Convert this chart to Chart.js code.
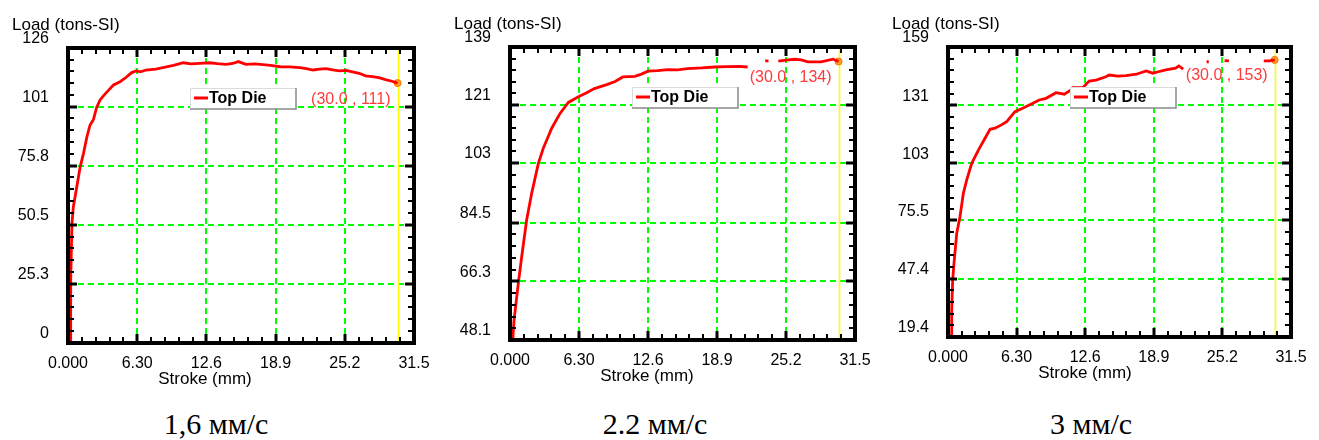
<!DOCTYPE html>
<html>
<head>
<meta charset="utf-8">
<script src="https://cdn.jsdelivr.net/npm/chart.js@4.4.1/dist/chart.umd.min.js"></script>
<style>
  body { margin: 0; background: #fff; width: 1319px; height: 440px; position: relative; overflow: hidden; }
  .panel { position: absolute; top: 0; }
  .panel canvas { display: block; }
  .cap { position: absolute; top: 409px; width: 300px; text-align: center; font: 30px 'Liberation Serif', 'Times New Roman', serif; line-height: 30px; color: #000; }
</style>
</head>
<body>
<div class="panel" style="left:0px"><canvas id="c1" width="440" height="400"></canvas></div>
<div class="panel" style="left:440px"><canvas id="c2" width="440" height="400"></canvas></div>
<div class="panel" style="left:880px"><canvas id="c3" width="439" height="400"></canvas></div>
<div class="cap" style="left:66px">1,6 мм/с</div>
<div class="cap" style="left:505px">2.2 мм/с</div>
<div class="cap" style="left:941px">3 мм/с</div>
<script>
// --- DATA ---
const xTicks = [0, 6.3, 12.6, 18.9, 25.2, 31.5];
const xTickLabels = ['0.000', '6.30', '12.6', '18.9', '25.2', '31.5'];

const yTicks1 = [0, 25.3, 50.5, 75.8, 101, 126];
const yTickLabels1 = ['0', '25.3', '50.5', '75.8', '101', '126'];
const yTicks2 = [48.1, 66.3, 84.5, 103, 121, 139];
const yTickLabels2 = ['48.1', '66.3', '84.5', '103', '121', '139'];
const yTicks3 = [19.4, 47.4, 75.5, 103, 131, 159];
const yTickLabels3 = ['19.4', '47.4', '75.5', '103', '131', '159'];

// 1,6 mm/s
const stroke1 = [0.2, 0.22, 0.27, 0.36, 0.48, 0.70, 1.1, 1.41, 1.72, 2.0, 2.32, 2.6, 2.92, 3.3, 3.7, 4.14, 4.74, 5.3, 5.8, 6.2,
  6.6, 7.1, 8.0, 8.95, 9.6, 10.5, 11.2, 12.0, 12.9, 13.6, 14.4, 15.0, 15.5, 16.2, 17.0, 18.0, 18.6, 19.3, 20.2, 21.1,
  21.7, 22.3, 22.9, 23.5, 24.1, 24.7, 25.3, 25.9, 26.5, 27.1, 27.7, 28.3, 28.9, 29.5, 30.0];
const load1 = [0, 15, 27, 51, 58, 64, 75, 81, 88, 93, 95.5, 100.5, 103.8, 106, 108, 110.2, 111.6, 113.5, 115.5, 116.2,
  115.8, 116.6, 117.0, 117.9, 118.6, 119.7, 119.2, 119.4, 119.7, 119.3, 119.0, 119.4, 120.2, 119.0, 119.2, 118.8, 118.5, 118.0, 117.9, 117.6,
  117.2, 116.6, 117.0, 117.2, 116.7, 116.2, 116.4, 115.8, 115.2, 114.1, 113.8, 113.3, 112.5, 111.8, 111];

// 2.2 mm/s (null = break in the trace)
const stroke2 = [0.25, 0.37, 0.76, 1.07, 1.52, 1.98, 2.59, 3.04, 3.81, 4.57, 5.33, 6.2, 7.0, 7.7, 8.9, 9.6, 10.3, 11.4, 12.0, 12.6,
  13.5, 14.4, 15.3, 16.2, 17.5, 18.7, 19.8, 20.9, 21.7, 22.5, 23.3, 23.6, 24.0, 24.5, 25.2, 26.0, 26.6, 27.2, 28.4, 29.5, 30.0];
const load2 = [48.1, 54.3, 65.7, 74.0, 85.3, 93.6, 102.9, 107.6, 113.8, 118.4, 121.8, 123.5, 124.8, 126.1, 127.4, 128.3, 129.7, 129.9, 130.6, 131.5,
  131.7, 132.0, 131.9, 132.3, 132.5, 132.8, 132.9, 133.0, 132.8, null, 134.7, 134.7, null, 134.6, 134.9, 135.2, 135.0, 134.4, 134.4, 135.2, 134.5];

// 3 mm/s
const stroke3 = [0.28, 0.34, 0.43, 0.55, 0.8, 1.1, 1.41, 1.72, 2.18, 2.79, 3.4, 3.86, 4.32, 4.9, 5.39, 6.15, 6.86, 7.47, 8.38, 9.0,
  9.92, 10.68, 11.3, 11.45, 12.37, 12.97, 13.6, 14.5, 14.8, 15.6, 16.35, 17.3, 18.2, 18.8, 19.4, 20.0, 20.9, 21.2, 21.6, 22.7,
  23.75, 23.95, 24.6, 25.4, 25.8, 27.4, 29.0, 29.5, 30.0];
const load3 = [19.4, 32.4, 46.8, 54.9, 69.3, 77.3, 88.6, 95.0, 103.0, 109.4, 115.1, 119.4, 119.9, 121.5, 123.1, 127.9, 129.5, 131.1, 133.5, 134.3,
  137.0, 136.3, 138.3, 139.4, 139.4, 142.6, 143.1, 144.7, 145.5, 145.0, 145.2, 145.9, 147.5, 146.4, 147.2, 148.0, 148.8, 149.9, 148.4, null,
  151.9, 151.9, null, 152.4, 152.3, null, 152.3, 152.3, 152.8];

const cursorX = 30.0;
const endLoads = [111, 134.5, 152.8];
const endLabels = ['(30.0 , 111)', '(30.0 , 134)', '(30.0 , 153)'];
const legendLabel = 'Top Die';
const yTitle = 'Load (tons-SI)';
const xTitle = 'Stroke (mm)';

// --- STYLE ---
Chart.defaults.font.family = "'Liberation Sans', Arial, sans-serif";
Chart.defaults.color = '#000';

const frame = {
  id: 'frame',
  beforeDatasetsDraw(chart, args, opts) {
    const { ctx, chartArea: a, scales: { x, y } } = chart;
    ctx.save();
    // dashed green grid on the inner ticks
    ctx.strokeStyle = '#00ff00';
    ctx.lineWidth = 2;
    ctx.setLineDash([6, 4]);
    xTicks.slice(1, -1).forEach(v => {
      const p = Math.round(x.getPixelForValue(v));
      ctx.beginPath(); ctx.moveTo(p, a.top); ctx.lineTo(p, a.bottom); ctx.stroke();
    });
    opts.yTicks.slice(1, -1).forEach(v => {
      const p = Math.round(y.getPixelForValue(v));
      ctx.beginPath(); ctx.moveTo(a.left, p); ctx.lineTo(a.right, p); ctx.stroke();
    });
    ctx.setLineDash([]);
    // cursor line
    const px = Math.round(x.getPixelForValue(cursorX)) + 0.5;
    ctx.strokeStyle = '#ffff00';
    ctx.lineWidth = 1.6;
    ctx.beginPath(); ctx.moveTo(px, a.top); ctx.lineTo(px, a.bottom); ctx.stroke();
    ctx.restore();
  },
  afterDatasetsDraw(chart, args, opts) {
    const { ctx, chartArea: a, scales: { x, y } } = chart;
    // legend panel
    const bx = a.left + 122, by = a.top + 40, bw = 106, bh = 21;
    ctx.save();
    ctx.fillStyle = '#fff';
    ctx.fillRect(bx, by, bw, bh);
    ctx.lineWidth = 1;
    ctx.strokeStyle = '#dcdcdc';
    ctx.beginPath(); ctx.moveTo(bx + 0.5, by + bh); ctx.lineTo(bx + 0.5, by + 0.5); ctx.lineTo(bx + bw, by + 0.5); ctx.stroke();
    ctx.strokeStyle = '#8a8a8a';
    ctx.lineWidth = 1.5;
    ctx.beginPath(); ctx.moveTo(bx + bw, by); ctx.lineTo(bx + bw, by + bh); ctx.lineTo(bx, by + bh); ctx.stroke();
    ctx.strokeStyle = '#ff0000';
    ctx.lineWidth = 3;
    ctx.beginPath(); ctx.moveTo(bx + 4, by + 10); ctx.lineTo(bx + 18, by + 10); ctx.stroke();
    ctx.fillStyle = '#000';
    ctx.font = "bold 16px 'Liberation Sans', Arial, sans-serif";
    ctx.textBaseline = 'middle';
    ctx.textAlign = 'left';
    ctx.fillText(legendLabel, bx + 19, by + 11);
    // cursor readout
    const px = x.getPixelForValue(cursorX), py = y.getPixelForValue(opts.endLoad);
    ctx.fillStyle = '#ff3b3b';
    ctx.font = "16px 'Liberation Sans', Arial, sans-serif";
    ctx.textAlign = 'right';
    ctx.fillText(opts.endLabel, px - 7, py + 16);
    ctx.restore();
  },
  afterDraw(chart, args, opts) {
    const { ctx, chartArea: a, scales: { x, y } } = chart;
    ctx.save();
    ctx.strokeStyle = '#000';
    ctx.lineWidth = 4;
    ctx.strokeRect(a.left, a.top, a.right - a.left, a.bottom - a.top);
    const mark = (p, len, w, horiz) => {
      ctx.lineWidth = w;
      ctx.beginPath();
      if (horiz) {
        ctx.moveTo(p, a.bottom); ctx.lineTo(p, a.bottom - len);
        ctx.moveTo(p, a.top); ctx.lineTo(p, a.top + len);
      } else {
        ctx.moveTo(a.left, p); ctx.lineTo(a.left + len, p);
        ctx.moveTo(a.right, p); ctx.lineTo(a.right - len, p);
      }
      ctx.stroke();
    };
    [[x, xTicks, true], [y, opts.yTicks, false]].forEach(([s, vals, horiz]) => {
      vals.forEach((v, i) => {
        mark(Math.round(s.getPixelForValue(v)), 9, 3, horiz);
        if (i < vals.length - 1) {
          for (let k = 1; k < 5; k++) mark(Math.round(s.getPixelForValue(v + (vals[i + 1] - v) * k / 5)), 6, 2, horiz);
        }
      });
    });
    ctx.fillStyle = '#000';
    ctx.font = "17px 'Liberation Sans', Arial, sans-serif";
    ctx.textAlign = 'left';
    ctx.textBaseline = 'alphabetic';
    ctx.fillText(yTitle, a.left - 56, a.top - 18);
    ctx.textAlign = 'center';
    ctx.textBaseline = 'middle';
    ctx.fillText(xTitle, a.left + 137, a.bottom + 36);
    ctx.restore();
  }
};

function makeChart(id, stroke, load, yTicks, yLabels, endLoad, endLabel, pad, leftW) {
  const pts = stroke.map((v, i) => ({ x: v, y: load[i] }));
  const zeroPad = s => { s.paddingLeft = 0; s.paddingRight = 0; s.paddingTop = 0; s.paddingBottom = 0; };
  return new Chart(document.getElementById(id), {
    type: 'line',
    data: {
      datasets: [
        { data: pts, borderColor: '#ff0000', borderWidth: 2.8, pointRadius: 0, tension: 0, spanGaps: false, fill: false },
        { data: [{ x: cursorX, y: endLoad }], showLine: false, pointRadius: 3.5, pointBackgroundColor: '#ffa024', pointBorderColor: '#ff7000', pointBorderWidth: 1 }
      ]
    },
    options: {
      responsive: false,
      animation: false,
      layout: { padding: pad },
      plugins: { legend: { display: false }, tooltip: { enabled: false },
        frame: { yTicks, endLoad, endLabel } },
      scales: {
        x: {
          type: 'linear', min: 0, max: 31.5,
          afterBuildTicks: s => { s.ticks = xTicks.map(v => ({ value: v })); },
          afterFit: s => { s.height = 40; zeroPad(s); },
          ticks: { callback: (v, i) => xTickLabels[i], font: { size: 16 }, padding: 11, maxRotation: 0, autoSkip: false },
          grid: { display: false, drawTicks: false },
          border: { display: false }
        },
        y: {
          type: 'linear', min: yTicks[0], max: yTicks[yTicks.length - 1],
          afterBuildTicks: s => { s.ticks = yTicks.map(v => ({ value: v })); },
          afterFit: s => { s.width = leftW; zeroPad(s); },
          ticks: { callback: (v, i) => yLabels[i], font: { size: 16 }, padding: 19, labelOffset: -9, autoSkip: false },
          grid: { display: false, drawTicks: false },
          border: { display: false }
        }
      }
    },
    plugins: [frame]
  });
}

makeChart('c1', stroke1, load1, yTicks1, yTickLabels1, endLoads[0], endLabels[0], { left: 0, top: 48, right: 26, bottom: 17 }, 68);
makeChart('c2', stroke2, load2, yTicks2, yTickLabels2, endLoads[1], endLabels[1], { left: 0, top: 47, right: 25, bottom: 20 }, 70);
makeChart('c3', stroke3, load3, yTicks3, yTickLabels3, endLoads[2], endLabels[2], { left: 0, top: 47, right: 28, bottom: 23 }, 68);
</script>
</body>
</html>
